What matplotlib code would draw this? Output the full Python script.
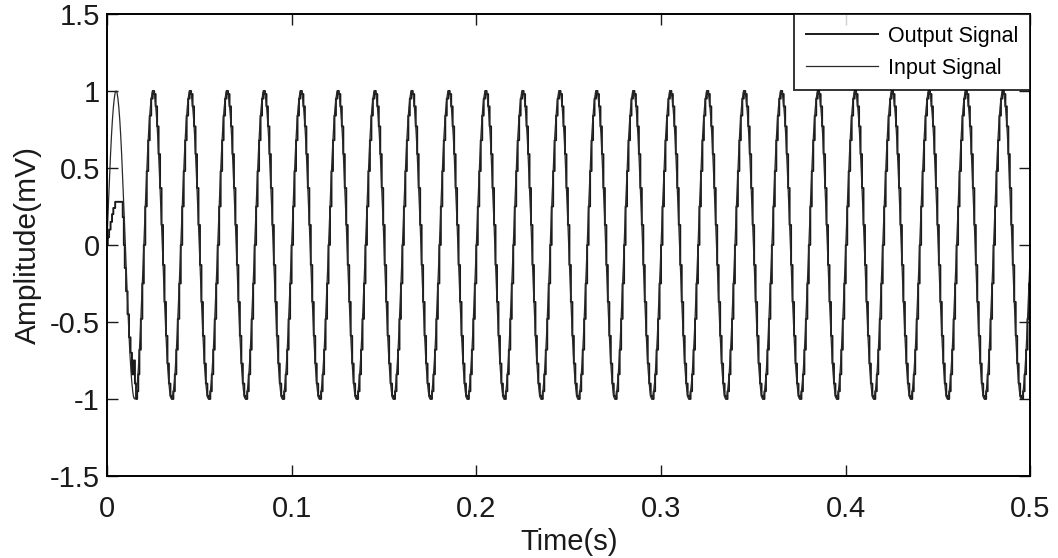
import matplotlib
matplotlib.use('Agg')
import matplotlib.pyplot as plt
from matplotlib import font_manager

# one 50 Hz cycle is 20 ms, 25 cycles up to 0.5 s
period_ms = 20
n_cycles = 25

# input signal, one cycle read every 0.5 ms
in_step_ms = 0.5
input_cycle = [0.0, 0.16, 0.31, 0.45, 0.59, 0.71, 0.81, 0.89, 0.95, 0.99,
               1.0, 0.99, 0.95, 0.89, 0.81, 0.71, 0.59, 0.45, 0.31, 0.16,
               0.0, -0.16, -0.31, -0.45, -0.59, -0.71, -0.81, -0.89, -0.95, -0.99,
               -1.0, -0.99, -0.95, -0.89, -0.81, -0.71, -0.59, -0.45, -0.31, -0.16]

# output signal (staircase), level held for each 0.8 ms step of one cycle
out_step_ms = 0.8
output_cycle = [0.0, 0.25, 0.48, 0.68, 0.84, 0.95, 1.0, 0.98, 0.9, 0.77, 0.59, 0.37, 0.13,
                -0.13, -0.37, -0.59, -0.77, -0.9, -0.98, -1.0, -0.95, -0.84, -0.68, -0.48, -0.25]

# first cycle of the output (start-up): start time of each level in ms
first_step_ms = [0.0, 0.5, 1.2, 2.0, 2.8, 3.5, 4.5, 8.6, 9.2, 9.7, 10.4, 11.2,
                 12.0, 12.8, 13.6, 14.4, 15.2, 15.8, 16.4, 17.0, 17.6, 18.4, 19.2]
first_levels = [0.0, 0.05, 0.1, 0.15, 0.2, 0.24, 0.28, 0.18, 0.0, -0.15, -0.3, -0.45,
                -0.6, -0.7, -0.84, -0.75, -0.9, -1.0, -0.95, -0.84, -0.68, -0.48, -0.25]

xticks = [0, 0.1, 0.2, 0.3, 0.4, 0.5]
xticklabels = ['0', '0.1', '0.2', '0.3', '0.4', '0.5']
yticks = [-1.5, -1, -0.5, 0, 0.5, 1, 1.5]
yticklabels = ['-1.5', '-1', '-0.5', '0', '0.5', '1', '1.5']

# build the time series
t_in, v_in = [], []
for k in range(n_cycles):
    for i, v in enumerate(input_cycle):
        t_in.append((k * period_ms + i * in_step_ms) / 1000)
        v_in.append(v)
t_in.append(n_cycles * period_ms / 1000)
v_in.append(input_cycle[0])

t_out = [s / 1000 for s in first_step_ms]
v_out = list(first_levels)
for k in range(1, n_cycles):
    for i, v in enumerate(output_cycle):
        t_out.append((k * period_ms + i * out_step_ms) / 1000)
        v_out.append(v)
t_out.append(n_cycles * period_ms / 1000)
v_out.append(output_cycle[0])

names = {f.name for f in font_manager.fontManager.ttflist}
fam = 'Liberation Sans Narrow' if 'Liberation Sans Narrow' in names else 'Liberation Sans'
plt.rcParams['font.family'] = [fam, 'DejaVu Sans']

fig = plt.figure(figsize=(10.58, 5.58), dpi=100)
ax = fig.add_axes([0.101, 0.147, 0.873, 0.828])

ax.plot(t_out, v_out, color='#1a1a1a', lw=1.4, drawstyle='steps-post', label='Output Signal')
ax.plot(t_in, v_in, color='#2a2a2a', lw=0.9, label='Input Signal')

ax.set_xlim(0, 0.5)
ax.set_ylim(-1.5, 1.5)
ax.set_xticks(xticks)
ax.set_xticklabels(xticklabels)
ax.set_yticks(yticks)
ax.set_yticklabels(yticklabels)
ax.tick_params(direction='in', top=True, right=True, length=8, width=1,
               labelsize=21, colors='#1a1a1a', pad=5)
ax.tick_params(axis='x', pad=14)
for sp in ax.spines.values():
    sp.set_linewidth(1.4)

ax.set_xlabel('Time(s)', fontsize=21, color='#1a1a1a', labelpad=3)
ax.set_ylabel('Amplitude(mV)', fontsize=21.5, color='#1a1a1a', labelpad=6)

leg = ax.legend(loc='upper right', fontsize=15.5, frameon=True, fancybox=False,
                edgecolor='black', borderaxespad=0, handlelength=3.35,
                handletextpad=0.47, labelspacing=0.5, borderpad=0.55)
leg.get_frame().set_linewidth(1.4)

fig.savefig('out.png', dpi=100)
